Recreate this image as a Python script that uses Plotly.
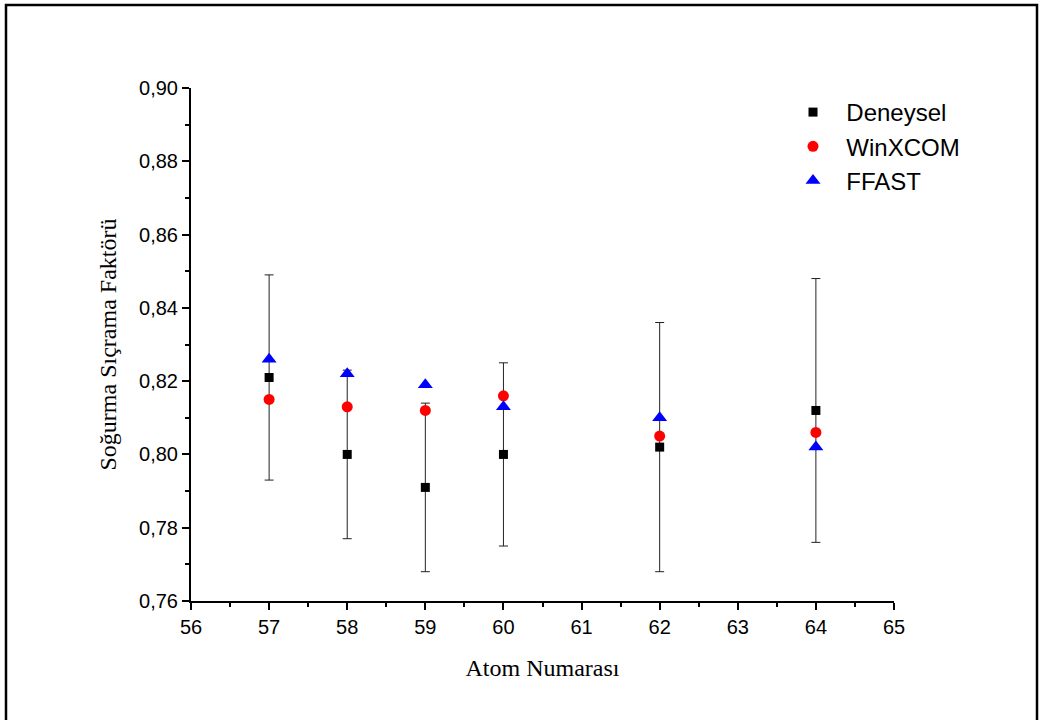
import plotly.graph_objects as go

atom_no = [57, 58, 59, 60, 62, 64]
deneysel = [0.821, 0.800, 0.791, 0.800, 0.802, 0.812]
deneysel_err = [0.028, 0.023, 0.023, 0.025, 0.034, 0.036]
winxcom = [0.815, 0.813, 0.812, 0.816, 0.805, 0.806]
ffast = [0.826, 0.822, 0.819, 0.813, 0.810, 0.802]

x_ticks = [56, 57, 58, 59, 60, 61, 62, 63, 64, 65]
y_ticks = [0.76, 0.78, 0.80, 0.82, 0.84, 0.86, 0.88, 0.90]

NB = "\u00a0\u00a0"

fig = go.Figure()
fig.add_trace(go.Scatter(
    x=atom_no, y=deneysel, mode="markers", name=NB + "Deneysel",
    marker=dict(symbol="square", size=9, color="black"),
    error_y=dict(type="data", array=deneysel_err, visible=True,
                 color="#222222", thickness=1, width=4.5),
))
fig.add_trace(go.Scatter(
    x=atom_no, y=winxcom, mode="markers", name=NB + "WinXCOM",
    marker=dict(symbol="circle", size=11, color="red"),
))
fig.add_trace(go.Scatter(
    x=atom_no, y=ffast, mode="markers", name=NB + "FFAST",
    marker=dict(symbol="triangle-up", size=13, color="blue"),
))

L, R, T, B = 191, 149, 88, 119
W, H = 1043, 720
pw, ph = W - L - R, H - T - B

def px_to_paper_x(px):
    return (px - L) / pw

def px_to_paper_y(py):
    return (H - B - py) / ph

fig.add_shape(type="rect", xref="paper", yref="paper",
              x0=px_to_paper_x(6), x1=px_to_paper_x(1037),
              y0=px_to_paper_y(730), y1=px_to_paper_y(5),
              line=dict(color="black", width=2.5), fillcolor="rgba(0,0,0,0)")

fig.update_layout(
    width=W, height=H,
    margin=dict(l=L, r=R, t=T, b=B),
    paper_bgcolor="white", plot_bgcolor="white",
    separators=",.",
    showlegend=True,
    legend=dict(x=px_to_paper_x(793), y=px_to_paper_y(90), xanchor="left", yanchor="top",
                font=dict(family="Liberation Sans, Arial", size=24, color="black"),
                bgcolor="rgba(0,0,0,0)", tracegroupgap=0),
    xaxis=dict(
        range=[56, 65], tickvals=x_ticks, ticktext=[str(v) for v in x_ticks],
        showgrid=False, zeroline=False, showline=True, linecolor="black", linewidth=2,
        ticks="outside", ticklen=7, tickwidth=2, tickcolor="black",
        minor=dict(dtick=0.5, ticks="outside", ticklen=4, tickwidth=2, tickcolor="black"),
        tickfont=dict(family="Liberation Sans, Arial", size=20, color="black"),
        title=dict(text="Atom Numarası", font=dict(family="Liberation Serif, Times New Roman", size=24, color="black"), standoff=22),
    ),
    yaxis=dict(
        range=[0.76, 0.90], tickvals=y_ticks, ticktext=[f"{v:.2f}".replace(".", ",") for v in y_ticks],
        showgrid=False, zeroline=False, showline=True, linecolor="black", linewidth=2,
        ticks="outside", ticklen=7, tickwidth=2, tickcolor="black",
        minor=dict(dtick=0.01, ticks="outside", ticklen=4, tickwidth=2, tickcolor="black"),
        tickfont=dict(family="Liberation Sans, Arial", size=20, color="black"),
        title=dict(text="Soğurma Sıçrama Faktörü", font=dict(family="Liberation Serif, Times New Roman", size=24, color="black"), standoff=16),
    ),
)

fig.write_html("out.html", config={"displayModeBar": False},
               post_script="document.body.style.margin='0';document.body.style.overflow='hidden';")
